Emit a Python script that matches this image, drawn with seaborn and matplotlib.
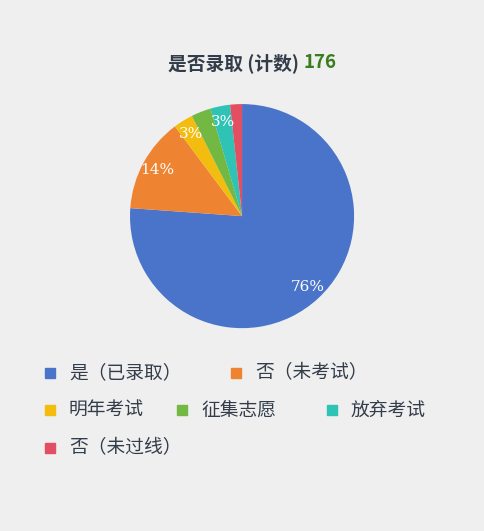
import matplotlib
matplotlib.use("Agg")
import matplotlib.pyplot as plt
import seaborn as sns
import numpy as np

categories = ["是（已录取）", "否（未考试）", "明年考试", "征集志愿", "放弃考试", "否（未过线）"]
counts = [134, 24, 5, 5, 5, 3]
show_label = [True, True, True, False, True, False]
colors = ["#4a74c9", "#ee8431", "#f3bd10", "#72b843", "#2ec3b4", "#e24f62"]
total = sum(counts)

sns.set_theme(style="white")
plt.rcParams['font.family'] = ['Noto Sans CJK SC', 'DejaVu Sans']
bg = "#efefef"
fig = plt.figure(figsize=(4.84, 5.31), dpi=100, facecolor=bg)
ax = fig.add_axes([0.5 - 0.2314, 0.593 - 0.211, 0.463, 0.422])
ax.set_facecolor(bg)
wedges, _ = ax.pie(counts, colors=sns.color_palette(colors), startangle=90,
                   counterclock=False, radius=1,
                   wedgeprops=dict(linewidth=0))
for w, c, s in zip(wedges, counts, show_label):
    if not s:
        continue
    ang = np.deg2rad((w.theta1 + w.theta2) / 2)
    r = 0.86
    ax.text(r*np.cos(ang), r*np.sin(ang), f"{round(100*c/total)}%", color="white",
            ha="center", va="center", fontsize=11, family="DejaVu Serif")
ax.set_xlim(-1, 1); ax.set_ylim(-1, 1); ax.set_aspect("equal"); ax.axis("off")

fig.text(0.626, 1 - 63/531, "是否录取 (计数) ", ha="right", va="center",
         fontsize=13.5, fontweight="bold", color="#333d4a")
fig.text(0.628, 1 - 63/531, "176", ha="left", va="center", fontsize=13.5,
         fontweight="bold", color="#3a7d1e")

pos = [(50, 373), (236, 373), (50, 410), (182, 410), (332, 410), (50, 448)]
for (x, y), lab, col in zip(pos, categories, colors):
    fig.patches.append(plt.Rectangle(((x-5)/484, 1-(y+5)/531), 10/484, 10/531,
                                     transform=fig.transFigure, color=col, figure=fig))
    fig.text((x+19)/484, 1-y/531, lab, ha="left", va="center", fontsize=13.5, color="#333d4a")

fig.savefig("out.png", dpi=100, facecolor=bg)
